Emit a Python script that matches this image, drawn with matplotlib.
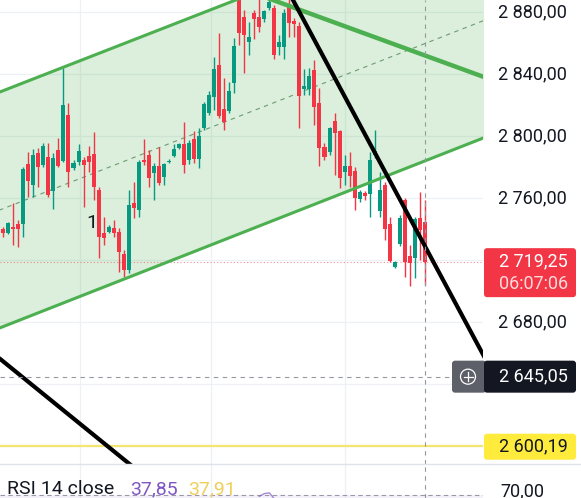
import matplotlib
matplotlib.use("Agg")
import matplotlib.pyplot as plt
from matplotlib.patches import FancyBboxPatch, Circle
import numpy as np

plt.rcParams['font.family'] = ['Roboto', 'DejaVu Sans']

# ---- hourly OHLC bars ----
opens = [2711.9, 2740.3, 2737.7, 2741.6, 2743.5, 2743.5, 2782.3, 2768.7, 2789.3, 2781.6,
         2786.8, 2764.8, 2791.3, 2784.2, 2813.9, 2779.7, 2783.6, 2784.8, 2787.4, 2788.7,
         2765.5, 2737.7, 2738.4, 2740.9, 2738.4, 2724.2, 2713.9, 2757.1, 2752.6, 2784.8,
         2788.1, 2776.5, 2781.0, 2773.9, 2783.6, 2787.4, 2792.6, 2795.2, 2784.8, 2798.4,
         2785.5, 2805.5, 2815.2, 2825.5, 2846.1, 2817.8, 2816.5, 2834.5, 2889.0, 2877.1,
         2861.0, 2879.7, 2877.1, 2875.8, 2882.9, 2882.9, 2857.7, 2857.7, 2884.8, 2874.5,
         2871.3, 2830.7, 2830.7, 2842.9, 2821.6, 2793.2, 2790.0, 2810.0, 2803.5, 2777.1,
         2781.0, 2777.8, 2759.7, 2763.6, 2762.9, 2788.1, 2751.9, 2768.7, 2743.5, 2715.8,
         2730.6, 2759.0, 2722.9, 2721.6, 2747.4, 2744.8]
highs = [2739.7, 2741.6, 2744.8, 2757.1, 2746.1, 2780.3, 2790.0, 2791.9, 2792.6, 2795.8,
         2795.8, 2789.3, 2799.0, 2844.2, 2821.6, 2784.8, 2795.2, 2786.8, 2793.9, 2802.9,
         2767.4, 2748.1, 2742.9, 2746.1, 2740.9, 2726.8, 2765.5, 2770.6, 2784.8, 2798.4,
         2791.3, 2782.9, 2793.2, 2782.9, 2785.5, 2795.2, 2795.8, 2809.3, 2797.7, 2803.5,
         2805.5, 2822.3, 2829.4, 2851.3, 2866.8, 2837.7, 2835.2, 2863.5, 2894.0, 2881.6,
         2873.9, 2881.6, 2890.0, 2881.6, 2889.4, 2884.8, 2865.5, 2882.3, 2890.0, 2876.4,
         2873.9, 2843.5, 2844.2, 2849.4, 2831.3, 2795.8, 2806.1, 2815.2, 2804.2, 2788.1,
         2790.0, 2780.3, 2765.5, 2764.8, 2790.0, 2804.2, 2777.1, 2770.6, 2748.1, 2719.6,
         2749.3, 2760.3, 2730.0, 2748.1, 2764.2, 2759.0]
lows = [2710.0, 2735.1, 2737.1, 2730.0, 2728.7, 2735.1, 2761.0, 2761.0, 2767.4, 2780.3,
        2761.0, 2753.2, 2780.3, 2783.6, 2767.4, 2778.4, 2781.6, 2754.5, 2777.1, 2759.0,
        2721.6, 2730.0, 2737.7, 2735.1, 2712.6, 2709.3, 2711.9, 2747.4, 2748.1, 2781.6,
        2767.4, 2759.0, 2768.7, 2768.7, 2782.9, 2786.8, 2791.9, 2776.5, 2782.3, 2782.9,
        2779.7, 2804.2, 2813.9, 2817.1, 2811.9, 2804.2, 2815.2, 2828.1, 2859.0, 2841.0,
        2852.6, 2862.9, 2867.4, 2873.9, 2881.6, 2850.0, 2852.6, 2850.0, 2864.2, 2864.2,
        2805.5, 2826.8, 2826.8, 2807.4, 2781.0, 2784.8, 2788.1, 2775.2, 2766.8, 2768.7,
        2767.4, 2752.6, 2757.7, 2759.0, 2748.1, 2786.1, 2748.1, 2733.2, 2719.0, 2715.2,
        2729.4, 2709.3, 2703.6, 2708.7, 2720.3, 2704.2]
closes = [2737.7, 2737.7, 2744.2, 2740.3, 2740.3, 2779.0, 2771.3, 2788.1, 2780.3, 2793.9,
          2762.3, 2786.1, 2781.0, 2820.3, 2777.1, 2782.9, 2790.6, 2781.6, 2783.6, 2767.4,
          2735.1, 2734.5, 2741.6, 2737.7, 2725.5, 2713.9, 2755.8, 2753.9, 2783.6, 2783.6,
          2773.2, 2781.0, 2770.0, 2782.3, 2784.2, 2791.9, 2795.2, 2781.6, 2795.8, 2785.5,
          2800.3, 2821.0, 2826.8, 2843.5, 2813.2, 2809.3, 2829.4, 2858.4, 2866.8, 2865.5,
          2864.2, 2875.8, 2870.6, 2881.0, 2886.8, 2852.6, 2861.0, 2879.7, 2873.2, 2872.6,
          2826.1, 2832.6, 2839.0, 2819.0, 2792.6, 2786.8, 2805.5, 2802.3, 2773.2, 2781.0,
          2774.5, 2760.3, 2764.2, 2761.6, 2784.8, 2790.6, 2765.5, 2740.3, 2719.7, 2719.0,
          2747.4, 2719.0, 2718.4, 2746.8, 2739.7, 2719.25]

# ---- drawings: (bar index, price) anchors ----
channel_bars = [0, 97]
channel_upper = [2828.3, 2950.8]
channel_lower = [2676.1, 2799.5]
resistance_bars = [54, 97]
resistance_prices = [2888.9, 2838.1]
trend_a_bars = [58, 97]
trend_a_prices = [2892.4, 2656.8]
trend_b_bars = [0, 30]
trend_b_prices = [2657.5, 2578.6]
note_bar, note_price, note_text = 18.7, 2744.0, "1"

# ---- axis / label values ----
price_ticks = [2880, 2840, 2800, 2760, 2720, 2680, 2640, 2600]
price_tick_labels = ["2 880,00", "2 840,00", "2 800,00", "2 760,00",
                     "2 720,00", "2 680,00", "2 640,00", "2 600,00"]
grid_bars = [16.3, 42.4, 69.1]
last_price, last_label, countdown = 2719.25, "2 719,25", "06:07:06"
cross_price, cross_label, cross_bar = 2645.05, "2 645,05", 85
alert_price, alert_label = 2600.19, "2 600,19"

rsi_title = "RSI 14 close"
rsi_value, rsi_ma_value = "37,85", "37,91"
rsi_level, rsi_level_label = 70, "70,00"
rsi_bars = [52, 53, 54, 55]
rsi_values = [68.5, 71.5, 72.4, 66.0]

# ---- layout (pixels) ----
W, H = 581, 498
plot_right = 483.3
pane_bottom = 463.5
bar_x0, bar_dx = -1.8, 5.02
price_top, price_bot = 2888.06, 2589.03

GREEN, RED = '#089981', '#f23645'
TEXT = '#131722'
CH_GREEN = '#4caf50'

fig = plt.figure(figsize=(W / 100, H / 100), dpi=100)
fig.patch.set_facecolor('white')

ax = fig.add_axes([0, 1 - pane_bottom / H, plot_right / W, pane_bottom / H])
ax_rsi = fig.add_axes([0, 0, plot_right / W, (H - pane_bottom) / H])
ov = fig.add_axes([0, 0, 1, 1], zorder=10)
ov.set_xlim(0, W)
ov.set_ylim(H, 0)
ov.axis('off')
ov.patch.set_alpha(0)

xlim = ((0 - bar_x0) / bar_dx, (plot_right - bar_x0) / bar_dx)
for a in (ax, ax_rsi):
    a.set_xlim(*xlim)
    a.axis('off')
ax.set_ylim(price_bot, price_top)


def py(price):
    return (price_top - price) / (price_top - price_bot) * pane_bottom


# grid
for t in price_ticks:
    ax.axhline(t, color='#eef0f5', lw=0.9, zorder=0)
for g in grid_bars:
    ax.axvline(g, color='#eef0f5', lw=0.9, zorder=0)
    ax_rsi.axvline(g, color='#eef0f5', lw=0.9, zorder=0)

# channel fill and median
xs = np.linspace(xlim[0] - 1, xlim[1] + 1, 200)
up = np.interp(xs, channel_bars, channel_upper)
lo = np.interp(xs, channel_bars, channel_lower)
ax.fill_between(xs, lo, up, color=CH_GREEN, alpha=0.2, lw=0, zorder=1)
ax.plot(xs, (up + lo) / 2, color='#6f9a70', lw=0.8, ls=(0, (4, 4)), zorder=2)

# candles
idx = np.arange(len(opens))
for i in idx:
    o, h, l, c = opens[i], highs[i], lows[i], closes[i]
    col = GREEN if c >= o else RED
    ax.vlines(i, l, h, color=col, lw=1.0, zorder=3)
    ax.bar(i, max(abs(c - o), 0.8), bottom=min(o, c), width=0.8,
           color=col, lw=0, zorder=4)

# last price dotted line
ax.axhline(last_price, color=RED, lw=0.8, ls=(0, (1, 2)), alpha=0.55, zorder=2)
# alert line
ax.axhline(alert_price, color='#f3e66e', lw=1.6, zorder=2)

# channel borders and trend lines
ax.plot(channel_bars, channel_upper, color=CH_GREEN, lw=2.2, zorder=5)
ax.plot(channel_bars, channel_lower, color=CH_GREEN, lw=2.2, zorder=5)
ax.plot(resistance_bars, resistance_prices, color=CH_GREEN, lw=3.2, zorder=5)
ax.plot(trend_a_bars, trend_a_prices, color='black', lw=3.0, zorder=6,
        solid_capstyle='butt')
ax.plot(trend_b_bars, trend_b_prices, color='black', lw=3.0, zorder=6,
        solid_capstyle='butt')
ax.text(note_bar, note_price, note_text, fontsize=14, color=TEXT,
        ha='center', va='center', zorder=7)

# crosshair
ax.axvline(cross_bar, color='#9598a1', lw=0.8, ls=(0, (4, 4)), zorder=6)
ax_rsi.axvline(cross_bar, color='#9598a1', lw=0.8, ls=(0, (4, 4)), zorder=6)
ov.plot([0, 452], [py(cross_price)] * 2, color='#9598a1', lw=0.8,
        ls=(0, (4, 4)))

# RSI pane
ax_rsi.set_ylim(66.67, 105)
ax_rsi.axhspan(30, rsi_level, color='#7e57c2', alpha=0.08, lw=0)
ax_rsi.axhline(rsi_level, color='#9a98a8', lw=0.8, ls=(0, (4, 3)))
ax_rsi.plot(rsi_bars, rsi_values, color='#7e57c2', lw=1.0, alpha=0.7)

# pane separator
ov.plot([0, W], [pane_bottom, pane_bottom], color='#e0e3eb', lw=1.0)

lab_x0, lab_w = 484, 92
tag_prices = [last_price, cross_price, alert_price]

# price scale labels (those under a tag are hidden by it)
for t, lab in zip(price_ticks, price_tick_labels):
    if any(abs(py(t) - py(p)) < 16 for p in tag_prices):
        continue
    ov.text(498, py(t), lab, fontsize=13, color=TEXT, ha='left',
            va='center', zorder=1)

# last price tag
yl = py(last_price)
ov.add_patch(FancyBboxPatch((lab_x0, yl - 13.5), lab_w, 49,
                            boxstyle="round,pad=0,rounding_size=3",
                            fc=RED, ec='none', zorder=3))
ov.text(499, yl, last_label, fontsize=13, color='white', ha='left',
        va='center', zorder=4)
ov.text(499, yl + 22, countdown, fontsize=13, color='#ffd9dc', ha='left',
        va='center', zorder=4)

# crosshair tag
yc = py(cross_price)
ov.add_patch(FancyBboxPatch((452, yc - 16), 34, 32,
                            boxstyle="round,pad=0,rounding_size=3",
                            fc='#5d6068', ec='none', zorder=3))
ov.add_patch(FancyBboxPatch((lab_x0, yc - 16), lab_w, 32,
                            boxstyle="round,pad=0,rounding_size=3",
                            fc='#131722', ec='none', zorder=3))
ov.add_patch(Circle((468, yc), 7.5, fc='none', ec='white', lw=0.9, zorder=4))
ov.plot([463.5, 472.5], [yc, yc], color='white', lw=0.9, zorder=4)
ov.plot([468, 468], [yc - 4.5, yc + 4.5], color='white', lw=0.9, zorder=4)
ov.text(499, yc, cross_label, fontsize=13, color='white', ha='left',
        va='center', zorder=4)

# alert tag
ya = py(alert_price)
ov.add_patch(FancyBboxPatch((lab_x0, ya - 12.5), lab_w, 26,
                            boxstyle="round,pad=0,rounding_size=3",
                            fc='#ffeb3b', ec='none', zorder=3))
ov.text(499, ya, alert_label, fontsize=13, color=TEXT, ha='left',
        va='center', zorder=4)

# RSI legend and scale
y_rsi = 489
ov.text(7, y_rsi, rsi_title, fontsize=14, color=TEXT, ha='left',
        va='center')
ov.text(130, y_rsi, rsi_value, fontsize=14, color='#7e57c2', ha='left',
        va='center')
ov.text(188, y_rsi, rsi_ma_value, fontsize=14, color='#efcf5a', ha='left',
        va='center')
ov.text(500, 491, rsi_level_label, fontsize=13, color=TEXT, ha='left',
        va='center')

fig.savefig('out.png', dpi=100, facecolor='white')
